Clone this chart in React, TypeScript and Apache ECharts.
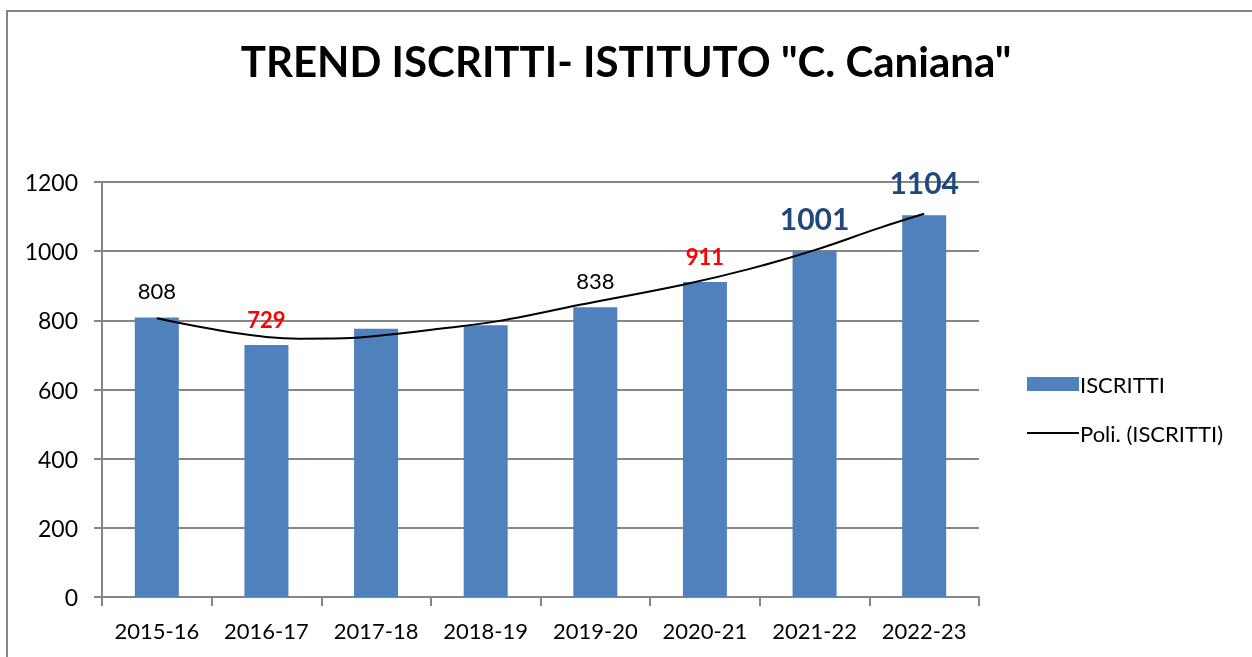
import React, { useEffect, useRef } from "react";
import * as echarts from "echarts";

const categories = ["2015-16", "2016-17", "2017-18", "2018-19", "2019-20", "2020-21", "2021-22", "2022-23"];
const iscritti = [808, 729, 776, 786, 838, 911, 1001, 1104];
const labelKinds = ["plain", "red", "none", "none", "plain", "red", "blue", "blue"];
const yTicks = [0, 200, 400, 600, 800, 1000, 1200];
const title = 'TREND ISCRITTI- ISTITUTO "C. Caniana"';
const seriesName = "ISCRITTI";
const trendName = "Poli. (ISCRITTI)";
// Polynomial trendline: [category position, value]
const trendX = [0, 0.75, 1.3, 1.7, 2.13, 2.58, 3.1, 3.86, 4.8, 5.4, 6.0, 6.6, 7.0];
const trendY = [806, 762, 747, 748, 759, 776, 797, 845, 903, 948, 1003, 1068, 1108];

const FONT = "Lato, 'Liberation Sans', sans-serif";

export default function App() {
  const ref = useRef<HTMLDivElement>(null);
  useEffect(() => {
    if (!ref.current) return;
    const chart = echarts.init(ref.current, undefined, { renderer: "svg" });
    const trend = trendX.map((x, i) => [x, trendY[i]]);
    const labelFor = (kind: string) => {
      if (kind === "none") return { show: false };
      if (kind === "red") return { show: true, position: "top", distance: 14, color: "#FF0000", fontWeight: "bold", fontSize: 22, fontFamily: FONT };
      if (kind === "blue") return { show: true, position: "top", distance: 18, color: "#1F497D", fontWeight: "bold", fontSize: 30, fontFamily: FONT };
      return { show: true, position: "top", distance: 16, color: "#000", fontSize: 22, fontFamily: FONT };
    };
    chart.setOption({
      animation: false,
      textStyle: { fontFamily: FONT },
      title: {
        text: title,
        left: "center",
        top: 35,
        textStyle: { fontFamily: FONT, fontSize: 42, fontWeight: "bold", color: "#000" },
      },
      graphic: [
        {
          type: "rect",
          shape: { x: 7, y: 11, width: 1300, height: 700 },
          style: { fill: "none", stroke: "#868686", lineWidth: 2 },
          silent: true,
        },
      ],
      legend: {
        orient: "vertical",
        left: 1021,
        top: 368,
        itemGap: 27,
        itemWidth: 52,
        itemHeight: 14,
        textStyle: { fontFamily: FONT, fontSize: 22, color: "#000", padding: [0, 0, 0, -4] },
        data: [
          { name: seriesName, icon: "rect" },
          { name: trendName, itemStyle: { opacity: 0 }, lineStyle: { color: "#000", width: 2 } },
        ],
      },
      grid: { left: 102, right: 273, top: 182, bottom: 60, containLabel: false },
      xAxis: [
        {
          type: "category",
          data: categories,
          axisLine: { show: true, lineStyle: { color: "#868686", width: 2 } },
          axisTick: { show: true, interval: 0, length: 9, lineStyle: { color: "#868686", width: 2 } },
          axisLabel: { color: "#000", fontSize: 22, fontFamily: FONT, margin: 22, interval: 0 },
        },
        {
          type: "value",
          min: -0.5,
          max: categories.length - 0.5,
          show: false,
        },
      ],
      yAxis: {
        type: "value",
        min: yTicks[0],
        max: yTicks[yTicks.length - 1],
        interval: 200,
        axisLine: { show: true, onZero: false, lineStyle: { color: "#868686", width: 2 } },
        axisTick: { show: true, length: 8, lineStyle: { color: "#868686", width: 2 } },
        axisLabel: { color: "#000", fontSize: 23, fontFamily: FONT, margin: 24, formatter: (v: number) => String(v) },
        splitLine: { show: true, lineStyle: { color: "#868686", width: 2 } },
      },
      series: [
        {
          name: seriesName,
          type: "bar",
          barWidth: 44,
          itemStyle: { color: "#4F81BD" },
          data: iscritti.map((v, i) => ({ value: v, label: labelFor(labelKinds[i]) })),
          z: 2,
        },
        {
          name: trendName,
          type: "line",
          xAxisIndex: 1,
          showSymbol: false,
          symbol: "none",
          smooth: 0.4,
          lineStyle: { color: "#000", width: 2 },
          itemStyle: { color: "#000" },
          data: trend,
          z: 3,
        },
      ],
    });
    return () => chart.dispose();
  }, []);
  return <div ref={ref} style={{ position: "fixed", left: 0, top: 0, width: 1252, height: 657 }} />;
}
